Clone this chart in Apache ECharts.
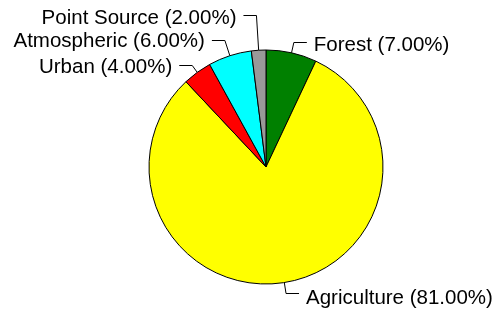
<!DOCTYPE html>
<html>
<head>
<meta charset="utf-8">
<title>Pie</title>
<script src="https://cdn.jsdelivr.net/npm/echarts@6/dist/echarts.min.js"></script>
<style>
  html, body { margin: 0; padding: 0; background: #fff; }
  #main { width: 498px; height: 309px; }
</style>
</head>
<body>
<div id="main"></div>
<script>
// 数据
var categories = ['Forest', 'Agriculture', 'Urban', 'Atmospheric', 'Point Source'];
var values = [7, 81, 4, 6, 2];
var colors = ['#008000', '#ffff00', '#ff0000', '#00ffff', '#999999'];

// 标签位置 (文字中心y, 引线拐点y)
var labelTextY = [45, 298, 67, 41, 18.5];
var labelLineY = [42.5, 293.5, 65.5, 40.5, 15.5];

var CX = 266, CY = 167, R = 117;

var chart = echarts.init(document.getElementById('main'));

var pieData = categories.map(function (name, i) {
  return { name: name, value: values[i], itemStyle: { color: colors[i] } };
});

var total = values.reduce(function (a, b) { return a + b; }, 0);

var option = {
  animation: false,
  series: [
    {
      type: 'pie',
      center: [CX, CY],
      radius: R,
      startAngle: 90,
      clockwise: true,
      data: pieData,
      itemStyle: { borderColor: '#000', borderWidth: 1 },
      label: {
        color: '#000',
        fontFamily: 'Liberation Sans, Arial, sans-serif',
        fontSize: 20.5,
        overflow: 'none',
        formatter: function (p) {
          return p.name + ' (' + p.value.toFixed(2) + '%)';
        }
      },
      labelLine: {
        show: true,
        length: 10,
        length2: 10,
        lineStyle: { color: '#000', width: 1 }
      },
      labelLayout: function (params) {
        var i = params.dataIndex;
        // 扇区中线角度
        var cum = 0;
        for (var k = 0; k < i; k++) cum += values[k];
        var a = (cum + values[i] / 2) / total * Math.PI * 2;
        var sx = Math.sin(a), sy = -Math.cos(a);
        var p0 = [CX + R * sx, CY + R * sy];
        var ly = labelLineY[i];
        var t = (ly - p0[1]) / sy;
        var ex = p0[0] + sx * t;
        var left = sx < 0;
        var hx = left ? ex - 13 : ex + 13;
        return {
          x: left ? hx - 7 : hx + 7,
          y: labelTextY[i],
          align: left ? 'right' : 'left',
          verticalAlign: 'middle',
          labelLinePoints: [p0, [ex, ly], [hx, ly]]
        };
      },
      emphasis: { disabled: true }
    }
  ]
};
chart.setOption(option);
</script>
</body>
</html>
